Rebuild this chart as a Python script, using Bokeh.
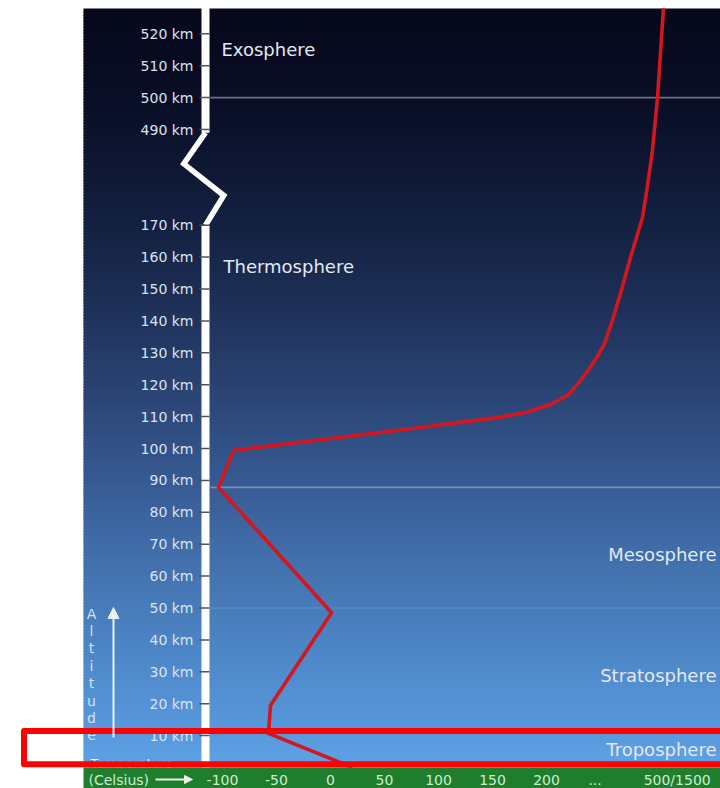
import numpy as np
from bokeh.plotting import figure
from bokeh.models import Range1d, Arrow, NormalHead
from bokeh.core.properties import value
from bokeh.embed import file_html
from bokeh.resources import INLINE

# ---------------- data ----------------
alt_ticks = [10, 20, 30, 40, 50, 60, 70, 80, 90, 100, 110, 120, 130, 140, 150, 160, 170,
             490, 500, 510, 520]
alt_tick_labels = [f"{a} km" for a in alt_ticks]

temp_ticks = [-100, -50, 0, 50, 100, 150, 200, 245, 321]
temp_tick_labels = ["-100", "-50", "0", "50", "100", "150", "200", "...", "500/1500"]

curve_alt = [528, 500, 420, 302, 195.6, 159.9, 148.6, 139.2, 132.9, 128.8, 125.1, 121.3,
             116.9, 113.8, 111.3, 109.6, 108.2, 106.6, 105.0, 99.4, 87.8, 48.5, 19.4, 10.7, 0]
curve_temp = [308.3, 302.8, 298.1, 293.5, 288.9, 277.8, 268.5, 260.2, 253.7, 247.2, 239.8,
              231.5, 220.4, 203.7, 180.6, 152.8, 120.4, 83.3, 46.3, -89.8, -103.7, 1,
              -55.6, -57.4, 20.4]

layer_names = ["Exosphere", "Thermosphere", "Mesosphere", "Stratosphere", "Troposphere"]
layer_label_alt = [515, 157, 66.8, 28.8, 5.6]
boundary_alts = [500, 87.8, 50]
altitude_word = "Altitude"
x_title = "(Celsius)"
x_title2 = "Temperature"


# broken altitude scale: 170..490 km squeezed into 30 units
def alt_pos(a):
    a = np.asarray(a, dtype=float)
    return np.where(a <= 170, a, np.where(a >= 490, a - 290, 170 + (a - 170) * 30.0 / 320.0))


W, H = 720, 788
SX, SY = 1.08, 3.19            # px per unit
X0 = -330 / SX
X1 = X0 + W / SX
Y1 = 767 / SY
Y0 = Y1 - H / SY


def py(page_y):
    return (767 - page_y) / SY


def px(page_x):
    return (page_x - 330) / SX


p = figure(width=W, height=H, output_backend="svg", toolbar_location=None,
           x_range=Range1d(X0, X1), y_range=Range1d(Y0, Y1),
           x_axis_location=None, y_axis_location=None, min_border=0)
p.outline_line_color = None
p.grid.visible = False
p.background_fill_color = "white"
p.border_fill_color = "white"

# ---------------- background gradient ----------------
stops_y = [8, 100, 150, 220, 300, 400, 480, 560, 650, 720, 767]
stops_c = ["#06081a", "#090e26", "#0d1530", "#132040", "#1d2f56", "#2b4676", "#375a92",
           "#4270ac", "#4d86c6", "#5796da", "#5ea2e6"]


def hex2rgb(h):
    return np.array([int(h[i:i + 2], 16) for i in (1, 3, 5)], dtype=float)


rgbs = np.array([hex2rgb(c) for c in stops_c])
edges = np.arange(8, 767, 3.0)
tops, bots, cols = [], [], []
for e in edges:
    mid = e + 1.5
    c = [np.interp(mid, stops_y, rgbs[:, k]) for k in range(3)]
    cols.append("#%02x%02x%02x" % tuple(int(round(v)) for v in c))
    tops.append(py(e))
    bots.append(max(py(e + 4.5), 0))
left = px(83)
p.quad(left=[left] * len(tops), right=[X1 + 5] * len(tops), top=tops, bottom=bots,
       fill_color=cols, line_color=None)

# boundary lines
bl_alpha = [0.75, 0.6, 0.3]
bl_col = ["#8c90a0", "#a4b4d0", "#8aa4cc"]
for a, al, c in zip(boundary_alts, bl_alpha, bl_col):
    y = float(alt_pos(a))
    p.line([px(210), X1 + 5], [y, y], line_color=c, line_alpha=al, line_width=1.6)

# ---------------- altitude bar ----------------
bx = px(205)
p.line([bx, bx], [-0.5, 170], line_color="white", line_width=8)
p.line([bx, bx], [float(alt_pos(490)) - 1.0, Y1 + 2], line_color="white", line_width=8)
p.line([bx, px(223.3), px(183.3), bx], [170, py(195), py(163.3), float(alt_pos(490)) - 1.0],
       line_color="white", line_width=5.5, line_join="miter")
tick_y = alt_pos(alt_ticks)
p.segment(x0=[px(199)] * len(alt_ticks), x1=[px(209)] * len(alt_ticks), y0=tick_y, y1=tick_y,
          line_color="#4a5264", line_width=1.5)
p.text(x=[px(193)] * len(alt_ticks), y=tick_y, text=alt_tick_labels,
       text_font=value("DejaVu Sans"), text_font_size="14px", text_color="#dde3ee",
       text_align="right", text_baseline="middle")

# ---------------- temperature curve ----------------
p.line(curve_temp, alt_pos(curve_alt), line_color="#d4161e", line_width=3.6,
       line_join="round")

# layer labels
lx = [px(221), px(223), px(716), px(716), px(716)]
la = ["left", "left", "right", "right", "right"]
for name, x, a, al in zip(layer_names, lx, layer_label_alt, la):
    p.text(x=[x], y=[float(alt_pos(a))], text=[name], text_font=value("DejaVu Sans"),
           text_font_size="18px", text_color="#e4e8f0", text_align=al,
           text_baseline="middle")

# Altitude word (vertical letters) + arrow
letters = list(altitude_word)
p.text(x=[px(91)] * len(letters), y=[py(613 + i * 17.4) for i in range(len(letters))],
       text=letters, text_font=value("DejaVu Sans"), text_font_size="14px",
       text_color="#d4e2f2", text_align="center", text_baseline="middle")
p.add_layout(Arrow(end=NormalHead(size=11, fill_color="#e8f0fa", line_color="#e8f0fa"),
                   x_start=px(113), y_start=py(737), x_end=px(113), y_end=py(607),
                   line_color="#e8f0fa", line_width=2))

# Temperature word (partly hidden)
p.text(x=[px(90)], y=[py(763)], text=[x_title2], text_font=value("DejaVu Sans"),
       text_font_size="13px", text_color="#eef4fc", text_align="left",
       text_baseline="alphabetic")

# green band with temperature scale
p.quad(left=[left], right=[X1 + 5], top=[0], bottom=[Y0 - 2], fill_color="#1f7e2e",
       line_color=None)
ly = py(779)
p.text(x=temp_ticks, y=[ly] * len(temp_ticks), text=temp_tick_labels,
       text_font=value("DejaVu Sans"), text_font_size="14px", text_color="#cdeccd",
       text_align="center", text_baseline="middle")
p.text(x=[px(88)], y=[ly], text=[x_title], text_font=value("DejaVu Sans"),
       text_font_size="14px", text_color="#cdeccd", text_align="left",
       text_baseline="middle")
p.add_layout(Arrow(end=NormalHead(size=8, fill_color="#e6f4e6", line_color="#e6f4e6"),
                   x_start=px(155), y_start=ly, x_end=px(192), y_end=ly,
                   line_color="#e6f4e6", line_width=2))

# red highlight rectangle
p.quad(left=[px(23.5)], right=[X1 + 20], top=[py(730.5)], bottom=[py(763.8)],
       fill_color=None, line_color="#ff0000", line_width=6, line_join="round")

open("out.html", "w").write(file_html(p, INLINE))
